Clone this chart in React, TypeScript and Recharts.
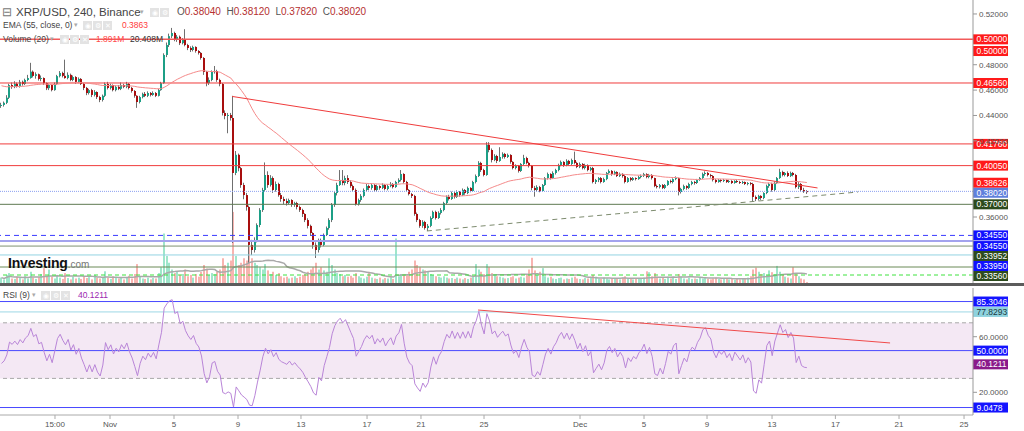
import React from 'react';
import { ComposedChart, Bar, Line, XAxis, YAxis, ReferenceLine, ReferenceArea } from 'recharts';

const FONT = '"Liberation Sans", Arial, sans-serif';

// XRP/USD 4h candles, prices in 1/10000 USD (open = previous close)
const FIRST_OPEN = 4475;
const CLOSE = [
  4483, 4500, 4540, 4640, 4625, 4650, 4630, 4665, 4648, 4680,
  4695, 4745, 4712, 4725, 4688, 4695, 4655, 4615, 4640, 4600,
  4648, 4710, 4735, 4712, 4695, 4720, 4680, 4703, 4665, 4688,
  4648, 4617, 4577, 4600, 4562, 4585, 4545, 4522, 4555, 4648,
  4617, 4640, 4600, 4625, 4610, 4640, 4625, 4648, 4617, 4593,
  4555, 4506, 4545, 4570, 4555, 4577, 4562, 4577, 4555, 4600,
  4655, 4877, 4955, 5025, 5050, 4995, 5020, 4970, 4995, 4955,
  4932, 4916, 4940, 4908, 4893, 4853, 4743, 4655, 4680, 4743,
  4750, 4680, 4648, 4420, 4396, 4404, 4380, 3947, 4090, 3985,
  3852, 3773, 3679, 3380, 3340, 3419, 3537, 3655, 3813, 3931,
  3852, 3907, 3813, 3860, 3773, 3742, 3726, 3710, 3734, 3695,
  3710, 3679, 3655, 3624, 3576, 3530, 3474, 3380, 3340, 3419,
  3380, 3458, 3513, 3576, 3695, 3789, 3852, 3892, 3868, 3907,
  3876, 3844, 3813, 3703, 3734, 3766, 3813, 3844, 3829, 3852,
  3813, 3844, 3829, 3852, 3821, 3844, 3860, 3836, 3876, 3892,
  3939, 3876, 3813, 3781, 3766, 3624, 3576, 3530, 3561, 3513,
  3530, 3592, 3640, 3592, 3632, 3655, 3710, 3758, 3742, 3789,
  3758, 3797, 3773, 3813, 3789, 3829, 3805, 3876, 3923, 4026,
  3970, 3931, 4168, 4128, 4049, 4081, 4042, 4073, 4097, 4073,
  4089, 4034, 3986, 4002, 3963, 4018, 4065, 4026, 4002, 3829,
  3813, 3836, 3805, 3852, 3907, 3939, 3907, 3947, 3970, 4010,
  4034, 4010, 4042, 4018, 4049, 4026, 3994, 4018, 3986, 4010,
  3970, 3986, 3876, 3892, 3907, 3876, 3899, 3947, 3963, 3939,
  3955, 3923, 3939, 3923, 3876, 3907, 3892, 3907, 3899, 3915,
  3923, 3939, 3915, 3931, 3907, 3844, 3836, 3852, 3829, 3852,
  3884, 3876, 3899, 3907, 3797, 3821, 3844, 3829, 3860, 3876,
  3868, 3892, 3907, 3939, 3947, 3931, 3923, 3892, 3876, 3892,
  3884, 3892, 3876, 3884, 3868, 3884, 3876, 3868, 3876, 3860,
  3868, 3860, 3758, 3742, 3766, 3750, 3789, 3844, 3860, 3813,
  3868, 3907, 3955, 3931, 3947, 3923, 3947, 3931, 3836, 3860,
  3813, 3804, 3802,
];
const HIGH = [
  4500, 4510, 4560, 4650, 4660, 4670, 4660, 4680, 4675, 4690,
  4720, 4815, 4755, 4740, 4730, 4715, 4700, 4660, 4650, 4645,
  4660, 4720, 4750, 4745, 4840, 4740, 4730, 4715, 4710, 4700,
  4695, 4655, 4625, 4610, 4610, 4600, 4590, 4555, 4565, 4660,
  4665, 4650, 4645, 4635, 4640, 4660, 4650, 4665, 4655, 4625,
  4600, 4560, 4555, 4580, 4585, 4590, 4585, 4590, 4585, 4610,
  4665, 4890, 4975, 5045, 5090, 5060, 5035, 5030, 5010, 5080,
  4965, 4945, 4950, 4945, 4915, 4900, 4860, 4750, 4700, 4755,
  4790, 4760, 4690, 4655, 4440, 4420, 4420, 4555, 4120, 4100,
  3995, 3870, 3790, 3690, 3420, 3440, 3550, 3670, 3830, 4030,
  3960, 3930, 3920, 3880, 3870, 3790, 3760, 3745, 3745, 3740,
  3720, 3720, 3690, 3665, 3630, 3590, 3540, 3480, 3400, 3430,
  3430, 3470, 3525, 3590, 3710, 3800, 3870, 3970, 3970, 3925,
  3930, 3890, 3855, 3825, 3745, 3780, 3825, 3860, 3855, 3865,
  3860, 3855, 3850, 3865, 3860, 3855, 3875, 3868, 3885, 3905,
  3970, 3945, 3885, 3820, 3790, 3775, 3635, 3585, 3575, 3570,
  3545, 3605, 3650, 3650, 3645, 3670, 3720, 3770, 3775, 3800,
  3800, 3810, 3805, 3825, 3820, 3840, 3835, 3885, 3935, 4040,
  4035, 3980, 4190, 4190, 4140, 4095, 4090, 4150, 4110, 4105,
  4100, 4095, 4040, 4015, 4010, 4025, 4090, 4075, 4035, 4010,
  3845, 3850, 3845, 3860, 3915, 3950, 3945, 3960, 3980, 4020,
  4045, 4040, 4055, 4050, 4060, 4115, 4035, 4030, 4025, 4020,
  4015, 3995, 3995, 3900, 3915, 3915, 3910, 3955, 3975, 3970,
  3965, 3960, 3950, 3945, 3930, 3915, 3915, 3915, 3912, 3925,
  3935, 3948, 3945, 3940, 3938, 3910, 3855, 3860, 3860, 3860,
  3890, 3895, 3905, 3920, 3910, 3830, 3855, 3850, 3870, 3885,
  3885, 3900, 3915, 3950, 3960, 3955, 3940, 3930, 3900, 3900,
  3898, 3900, 3895, 3892, 3890, 3890, 3892, 3885, 3885, 3880,
  3875, 3875, 3870, 3770, 3775, 3772, 3795, 3855, 3870, 3870,
  3880, 3915, 3980, 3965, 3955, 3960, 3958, 3955, 3940, 3875,
  3868, 3830, 3812,
];
const LOW = [
  4460, 4470, 4490, 4530, 4610, 4615, 4620, 4620, 4635, 4640,
  4670, 4690, 4700, 4690, 4675, 4670, 4640, 4600, 4600, 4590,
  4595, 4640, 4700, 4700, 4690, 4685, 4670, 4670, 4650, 4655,
  4640, 4600, 4560, 4565, 4545, 4550, 4530, 4505, 4510, 4545,
  4605, 4605, 4590, 4590, 4600, 4600, 4615, 4615, 4605, 4580,
  4540, 4460, 4495, 4535, 4545, 4545, 4550, 4555, 4545, 4550,
  4595, 4650, 4860, 4940, 5010, 4985, 4980, 4955, 4960, 4945,
  4915, 4900, 4905, 4895, 4880, 4840, 4720, 4630, 4640, 4670,
  4730, 4665, 4630, 4400, 4370, 4260, 4360, 3395, 3930, 3960,
  3830, 3740, 3650, 3230, 3300, 3320, 3400, 3520, 3640, 3800,
  3830, 3840, 3790, 3800, 3760, 3720, 3700, 3690, 3700, 3680,
  3680, 3660, 3640, 3600, 3560, 3510, 3450, 3350, 3277, 3320,
  3360, 3370, 3450, 3500, 3560, 3680, 3770, 3845, 3850, 3850,
  3860, 3830, 3800, 3690, 3690, 3720, 3755, 3800, 3810, 3815,
  3800, 3800, 3815, 3820, 3810, 3810, 3835, 3825, 3830, 3865,
  3880, 3865, 3800, 3770, 3750, 3610, 3560, 3515, 3515, 3500,
  3490, 3520, 3585, 3580, 3585, 3620, 3645, 3700, 3730, 3735,
  3745, 3750, 3760, 3765, 3775, 3780, 3795, 3800, 3865, 3915,
  3955, 3920, 3925, 4110, 4030, 4040, 4025, 4035, 4060, 4060,
  4065, 4020, 3975, 3975, 3950, 3955, 4010, 4015, 3990, 3810,
  3760, 3800, 3795, 3800, 3845, 3895, 3895, 3900, 3935, 3960,
  4000, 3995, 4000, 4005, 4010, 4015, 3985, 3985, 3975, 3975,
  3960, 3960, 3865, 3860, 3875, 3865, 3870, 3890, 3940, 3925,
  3930, 3915, 3915, 3910, 3865, 3870, 3880, 3885, 3888, 3893,
  3905, 3915, 3905, 3905, 3895, 3835, 3825, 3825, 3820, 3820,
  3845, 3865, 3865, 3890, 3770, 3785, 3810, 3815, 3820, 3850,
  3855, 3860, 3885, 3900, 3925, 3920, 3910, 3880, 3865, 3870,
  3872, 3875, 3868, 3868, 3860, 3862, 3868, 3860, 3860, 3852,
  3850, 3850, 3720, 3725, 3730, 3735, 3740, 3780, 3830, 3800,
  3805, 3860, 3900, 3920, 3920, 3915, 3915, 3920, 3825, 3820,
  3800, 3790, 3782,
];
// volume, millions
const VOLUME = [
  12, 8, 18, 22, 10, 9, 14, 11, 8, 15,
  10, 25, 12, 9, 13, 20, 33, 16, 30, 14,
  10, 18, 12, 9, 22, 11, 8, 14, 10, 12,
  9, 15, 11, 13, 8, 18, 12, 10, 14, 26,
  12, 9, 15, 11, 10, 13, 8, 12, 16, 10,
  20, 42, 14, 10, 9, 12, 8, 11, 10, 22,
  35, 110, 60, 45, 30, 22, 25, 18, 20, 30,
  15, 18, 12, 20, 14, 25, 40, 32, 18, 22,
  20, 25, 30, 55, 40, 45, 50, 158, 60, 40,
  45, 55, 50, 80, 55, 45, 40, 35, 30, 42,
  28, 20, 25, 18, 22, 15, 12, 14, 10, 12,
  15, 11, 14, 18, 20, 25, 30, 35, 45, 30,
  35, 28, 25, 55, 40, 30, 22, 20, 15, 18,
  14, 16, 12, 22, 15, 12, 10, 14, 25, 12,
  10, 9, 12, 8, 11, 10, 13, 9, 99, 15,
  20, 20, 18, 25, 30, 50, 40, 35, 30, 28,
  25, 20, 18, 15, 14, 12, 15, 12, 10, 11,
  9, 12, 10, 8, 11, 9, 12, 14, 42, 30,
  25, 20, 42, 35, 22, 18, 15, 14, 12, 10,
  11, 13, 15, 10, 12, 14, 12, 20, 30, 56,
  28, 18, 25, 33, 15, 12, 14, 10, 9, 11,
  12, 8, 10, 9, 12, 14, 10, 9, 8, 11,
  10, 12, 18, 14, 10, 9, 12, 10, 8, 9,
  11, 10, 8, 12, 15, 10, 9, 8, 10, 9,
  11, 12, 26, 24, 15, 22, 14, 10, 12, 9,
  14, 10, 12, 9, 20, 14, 10, 8, 12, 9,
  10, 9, 12, 10, 11, 9, 8, 10, 12, 9,
  8, 10, 9, 8, 10, 7, 9, 8, 10, 9,
  12, 15, 30, 34, 25, 20, 22, 18, 28, 24,
  20, 38, 25, 18, 14, 12, 10, 35, 22, 15,
  10, 8, 2,
];

// time axis, in candle slots
const X_MIN = -0.5625;
const X_MAX = 364.3;
const X_TICKS = [20.06, 40.69, 64.69, 88.69, 112.3, 137.07, 157.3, 180.94, 216.94, 240.94, 264.56, 288.94, 312.7, 336.56, 360.94];
const X_TICK_LABELS = ['15:00', 'Nov', '5', '9', '13', '17', '21', '25', 'Dec', '5', '9', '13', '17', '21', '25'];

const PRICE_DOMAIN = [0.308, 0.531];
const PRICE_TICKS = [0.36, 0.42, 0.44, 0.46, 0.48, 0.52];
const VOL_MAX = 629;
const EMA_LEN = 55;
const EMA_SEED = 0.464;
const RSI_LEN = 9;
const RSI_SEED_GAIN = 0.003;
const RSI_SEED_LOSS = 0.0045;
const RSI_DOMAIN = [3.67, 95.04];

const PRICE_LEVELS = [
  { price: 0.5, color: '#f25a5a', dash: undefined, w: 1.5 },
  { price: 0.4656, color: '#f03c3c', dash: undefined, w: 1 },
  { price: 0.4176, color: '#f03c3c', dash: undefined, w: 1 },
  { price: 0.4005, color: '#f03c3c', dash: undefined, w: 1 },
  { price: 0.3802, color: '#8c9ff0', dash: '1 1', w: 1 },
  { price: 0.37, color: '#5f7a52', dash: undefined, w: 1 },
  { price: 0.3455, color: '#3a3aff', dash: '5 4', w: 1 },
  { price: 0.3411, color: '#a3a3ee', dash: undefined, w: 2 },
  { price: 0.3371, color: '#7f9272', dash: undefined, w: 1 },
  { price: 0.3301, color: '#94d4e2', dash: undefined, w: 1 },
  { price: 0.3206, color: '#6a8a56', dash: undefined, w: 1 },
  { price: 0.3143, color: '#3ee23e', dash: '4 3', w: 1 },
];
const PRICE_TAGS = [
  { slot: 0.5, text: '0.50000', bg: '#ff1a1a', fg: '#fff' },
  { slot: 0.4908, text: '0.50000', bg: '#ff1a1a', fg: '#fff' },
  { slot: 0.4656, text: '0.46560', bg: '#ff1a1a', fg: '#fff' },
  { slot: 0.4176, text: '0.41760', bg: '#ff1a1a', fg: '#fff' },
  { slot: 0.4005, text: '0.40050', bg: '#ff1a1a', fg: '#fff' },
  { slot: 0.387, text: '0.38626', bg: '#ff1a1a', fg: '#fff' },
  { slot: 0.3791, text: '0.38020', bg: '#5f80dc', fg: '#fff' },
  { slot: 0.37, text: '0.37000', bg: '#2c4a1c', fg: '#fff' },
  { slot: 0.3455, text: '0.34550', bg: '#1010ff', fg: '#fff' },
  { slot: 0.3371, text: '0.34550', bg: '#1010ff', fg: '#fff' },
  { slot: 0.3293, text: '0.33952', bg: '#2c4a1c', fg: '#fff' },
  { slot: 0.3214, text: '0.33950', bg: '#1010ff', fg: '#fff' },
  { slot: 0.3135, text: '0.33560', bg: '#2c4a1c', fg: '#fff' },
];
const RESISTANCE = [{ x: 86.5, y: 0.455 }, { x: 306, y: 0.3829 }];
const SUPPORT = [{ x: 159.5, y: 0.349 }, { x: 321.2, y: 0.3797 }];

const RSI_LEVELS = [
  { v: 85.3046, color: '#4848ff' },
  { v: 77.8293, color: '#9cd8e6' },
  { v: 50, color: '#4848ff' },
  { v: 9.0478, color: '#4848ff' },
];
const RSI_TAGS = [
  { slot: 85.3046, text: '85.3046', bg: '#1414ff', fg: '#fff' },
  { slot: 77.8293, text: '77.8293', bg: '#8ed2de', fg: '#1b3a40' },
  { slot: 50, text: '50.0000', bg: '#1414ff', fg: '#fff' },
  { slot: 40.1211, text: '40.1211', bg: '#8a1a8a', fg: '#fff' },
  { slot: 9.0478, text: '9.0478', bg: '#1414ff', fg: '#fff' },
];
const RSI_TREND = [{ x: 178.7, y: 79.2 }, { x: 333.2, y: 55.5 }];

// build rows
const rows = (() => {
  const k = 2 / (EMA_LEN + 1);
  let ema = EMA_SEED;
  let ag = RSI_SEED_GAIN;
  let al = RSI_SEED_LOSS;
  let prev = FIRST_OPEN / 1e4;
  return CLOSE.map((c, i) => {
    const open = prev;
    const close = c / 1e4;
    const high = Math.max(HIGH[i] / 1e4, open, close);
    const low = Math.min(LOW[i] / 1e4, open, close);
    ema = close * k + ema * (1 - k);
    const d = close - prev;
    ag = (ag * (RSI_LEN - 1) + Math.max(d, 0)) / RSI_LEN;
    al = (al * (RSI_LEN - 1) + Math.max(-d, 0)) / RSI_LEN;
    const rsi = al === 0 ? 100 : 100 - 100 / (1 + ag / al);
    const from = Math.max(0, i - 19);
    const win = VOLUME.slice(from, i + 1);
    const volMa = win.reduce((a, b) => a + b, 0) / win.length;
    prev = close;
    return { t: i, open, close, high, low, range: [low, high], volume: VOLUME[i], volMa, ema, rsi, up: close >= open };
  });
})();

const Candle = (props: any) => {
  const { x, y, width, height, payload } = props;
  if (!payload || height == null) return null;
  const { open, close, high, low } = payload;
  const span = high - low || 1e-9;
  const k = height / span;
  const top = y + (high - Math.max(open, close)) * k;
  const bot = y + (high - Math.min(open, close)) * k;
  const bx = Math.round(x);
  const color = close >= open ? '#1c9f86' : '#a80e0e';
  return (
    <g>
      <line x1={bx + 0.5} x2={bx + 0.5} y1={y} y2={y + height} stroke="#6f6f6f" strokeWidth={1} />
      <rect x={bx} y={top} width={Math.max(2, width)} height={Math.max(1, bot - top)} fill={color} />
    </g>
  );
};

const VolumeBar = (props: any) => {
  const { x, y, width, height, payload } = props;
  if (!payload || !height) return null;
  return <rect x={Math.round(x)} y={y} width={Math.max(2, width)} height={height} fill={payload.up ? '#9fe6cb' : '#f8b4b0'} />;
};

const tagRenderer = (text: string, bg: string, fg: string) => (props: any) => {
  const vb = props.viewBox || {};
  const x = (vb.x || 0) + (vb.width || 0);
  const y = vb.y || 0;
  return (
    <g>
      <rect x={x} y={y - 5} width={35} height={10} fill={bg} />
      <text x={x + 3.5} y={y + 3} fontSize={8.5} fill={fg} fontFamily={FONT}>{text}</text>
    </g>
  );
};

const Icons = ({ n, left, top }: { n: number; left: number; top: number }) => (
  <div style={{ position: 'absolute', left, top, display: 'flex', gap: 1 }}>
    {['◉', '⚙', '✕'].slice(0, n).map((g) => (
      <span key={g} style={{ width: 9, height: 9, background: '#e3e3e3', color: '#fff', fontSize: 7, lineHeight: '9px', textAlign: 'center', display: 'inline-block' }}>{g}</span>
    ))}
  </div>
);

const txt = (left: number, top: number, size: number, color: string, content: React.ReactNode, extra: React.CSSProperties = {}) => (
  <div style={{ position: 'absolute', left, top, fontSize: size, color, lineHeight: '12px', whiteSpace: 'nowrap', ...extra }}>{content}</div>
);

const axisTick = { fontSize: 8, fill: '#555', fontFamily: FONT };

export default function App() {
  const red = '#b53030';
  return (
    <div style={{ position: 'absolute', left: 0, top: 0, width: 1024, height: 431, background: '#fff', fontFamily: FONT, overflow: 'hidden' }}>
      <div style={{ position: 'absolute', left: 0, top: 0 }}>
        <ComposedChart width={1024} height={283} data={rows} margin={{ top: 0, right: 0, bottom: 0, left: 0 }}>
          <XAxis dataKey="t" type="number" domain={[X_MIN, X_MAX]} allowDataOverflow hide />
          <XAxis xAxisId="vol" dataKey="t" type="number" domain={[X_MIN, X_MAX]} allowDataOverflow hide />
          <YAxis
            orientation="right"
            width={51}
            type="number"
            domain={PRICE_DOMAIN}
            allowDataOverflow
            ticks={PRICE_TICKS}
            interval={0}
            tickFormatter={(v: number) => v.toFixed(5)}
            tick={axisTick}
            tickSize={4}
            axisLine={{ stroke: '#999' }}
            tickLine={{ stroke: '#999' }}
          />
          <YAxis yAxisId="vol" hide domain={[0, VOL_MAX]} allowDataOverflow />
          <Bar xAxisId="vol" yAxisId="vol" dataKey="volume" barSize={2} shape={VolumeBar} isAnimationActive={false} />
          <Line xAxisId="vol" yAxisId="vol" dataKey="volMa" stroke="#a9a9a9" strokeWidth={1.5} dot={false} activeDot={false} isAnimationActive={false} />
          {PRICE_LEVELS.map((l, i) => (
            <ReferenceLine key={'pl' + i} y={l.price} stroke={l.color} strokeWidth={l.w} strokeDasharray={l.dash} ifOverflow="visible" />
          ))}
          <Line dataKey="ema" stroke="#f58a8a" strokeWidth={1} dot={false} activeDot={false} isAnimationActive={false} />
          <Bar dataKey="range" barSize={2} shape={Candle} isAnimationActive={false} />
          <ReferenceLine segment={RESISTANCE} stroke="#f03c3c" strokeWidth={1} ifOverflow="visible" />
          <ReferenceLine segment={SUPPORT} stroke="#7d8b6e" strokeWidth={1} strokeDasharray="5 4" ifOverflow="visible" />
          {PRICE_TAGS.map((t, i) => (
            <ReferenceLine key={'pt' + i} y={t.slot} stroke="none" ifOverflow="visible" label={tagRenderer(t.text, t.bg, t.fg)} />
          ))}
        </ComposedChart>
      </div>

      <div style={{ position: 'absolute', left: 0, top: 283, width: 1024, height: 3, background: '#5c5c5c' }} />

      <div style={{ position: 'absolute', left: 0, top: 286 }}>
        <ComposedChart width={1024} height={145} data={rows} margin={{ top: 2, right: 0, bottom: 0, left: 0 }}>
          <XAxis
            dataKey="t"
            type="number"
            domain={[X_MIN, X_MAX]}
            allowDataOverflow
            ticks={X_TICKS}
            interval={0}
            tickFormatter={(v: number) => X_TICK_LABELS[X_TICKS.indexOf(v)] ?? ''}
            height={16}
            tickSize={4}
            tick={axisTick}
            axisLine={{ stroke: '#aaa' }}
            tickLine={{ stroke: '#aaa' }}
          />
          <YAxis
            orientation="right"
            width={51}
            type="number"
            domain={RSI_DOMAIN}
            allowDataOverflow
            ticks={[20, 60]}
            interval={0}
            tickFormatter={(v: number) => v.toFixed(4)}
            tick={axisTick}
            tickSize={4}
            axisLine={{ stroke: '#999' }}
            tickLine={{ stroke: '#999' }}
          />
          <ReferenceArea y1={30} y2={70} fill="#f4e8f4" fillOpacity={1} stroke="none" ifOverflow="visible" />
          <ReferenceLine y={70} stroke="#a8a8a8" strokeDasharray="4 3" />
          <ReferenceLine y={30} stroke="#a8a8a8" strokeDasharray="4 3" />
          {RSI_LEVELS.map((l, i) => (
            <ReferenceLine key={'rl' + i} y={l.v} stroke={l.color} strokeWidth={1} ifOverflow="visible" />
          ))}
          <Line dataKey="rsi" stroke="#b985d8" strokeWidth={1} dot={false} activeDot={false} isAnimationActive={false} />
          <ReferenceLine segment={RSI_TREND} stroke="#f04a4a" strokeWidth={1} ifOverflow="visible" />
          {RSI_TAGS.map((t, i) => (
            <ReferenceLine key={'rt' + i} y={t.slot} stroke="none" ifOverflow="visible" label={tagRenderer(t.text, t.bg, t.fg)} />
          ))}
        </ComposedChart>
      </div>

      {/* legends */}
      {txt(2, 6, 12, '#777', '⊟')}
      {txt(16, 6, 11.5, '#444', 'XRP/USD, 240, Binance')}
      {txt(140, 6, 7, '#aaa', '▾')}
      <Icons n={2} left={150} top={8} />
      {txt(177, 6, 10, '#555', (
        <span>
          O<span style={{ color: red }}>0.38040</span>{'  '}H<span style={{ color: red }}>0.38120</span>{'  '}L<span style={{ color: red }}>0.37820</span>{'  '}C<span style={{ color: red }}>0.38020</span>
        </span>
      ), { whiteSpace: 'pre' })}
      {txt(3, 19, 8.5, '#444', 'EMA (55, close, 0)')}
      {txt(74, 19, 7, '#aaa', '▾')}
      <Icons n={3} left={83} top={21} />
      {txt(122, 19, 8.5, '#ff3b3b', '0.3863')}
      {txt(3, 33, 8.5, '#444', 'Volume (20)')}
      {txt(50, 33, 7, '#aaa', '▾')}
      <Icons n={3} left={60} top={35} />
      {txt(96, 33, 8.5, '#ff4a4a', '1.891M')}
      {txt(130, 33, 8.5, '#333', '20.408M')}

      {txt(8, 257, 14, '#111', (
        <span>
          <span style={{ fontWeight: 'bold', letterSpacing: -0.2 }}>Investing</span>
          <span style={{ fontSize: 10, color: '#777' }}>.com</span>
        </span>
      ))}

      {txt(3, 289, 8.5, '#444', 'RSI (9)')}
      {txt(32, 289, 7, '#aaa', '▾')}
      <Icons n={3} left={41} top={291} />
      {txt(78, 289, 8.5, '#9c27b0', '40.1211')}
    </div>
  );
}
